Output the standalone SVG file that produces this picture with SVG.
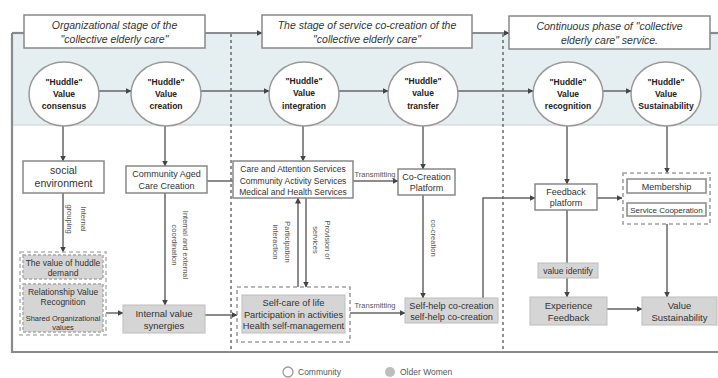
<svg xmlns="http://www.w3.org/2000/svg" width="718" height="378" viewBox="0 0 718 378">
<style>
text{font-family:"Liberation Sans",Arial,sans-serif;fill:#333;text-anchor:middle}
.ti{font-size:10.5px;font-style:italic}
.c{font-size:8.5px;font-weight:bold;fill:#222}
.b{font-size:9px}
.s{font-size:8.5px}
.lb{font-size:7.5px;fill:#555}
.box{fill:#fff;stroke:#888;stroke-width:1.5}
.gbox{fill:#d5d5d5;stroke:#bdbdbd;stroke-width:1}
.gd{fill:#d5d5d5;stroke:#a8a8a8;stroke-width:1.4;stroke-dasharray:3 2}
.dg{fill:none;stroke:#a0a0a0;stroke-width:1.6;stroke-dasharray:4 3}
.circ{fill:#fff;stroke:#999;stroke-width:1.5}
.ln{fill:none;stroke:#666;stroke-width:1.5}
.ar{marker-end:url(#ah)}
.frame{fill:none;stroke:#8a8a8a;stroke-width:2.2}
.vd{fill:none;stroke:#555;stroke-width:1.3;stroke-dasharray:3 3}
</style>
<defs>
<marker id="ah" markerUnits="userSpaceOnUse" markerWidth="6" markerHeight="6" refX="5.5" refY="3" orient="auto"><path d="M0,0 L6,3 L0,6 z" fill="#444"/></marker>
</defs>
<rect x="0" y="0" width="718" height="378" fill="#fff"/>
<rect x="13" y="34" width="705" height="91" fill="#e5eff1"/>
<line x1="13" y1="125" x2="718" y2="125" stroke="#c8d0d2" stroke-width="1"/>
<g id="frame">
<path class="frame" d="M12,33 V352 H718"/>
<line class="vd" x1="231" y1="34" x2="231" y2="352"/>
<line class="vd" x1="503" y1="34" x2="503" y2="352"/>
</g>
<g id="connectors">
<line class="frame" x1="12" y1="33" x2="24" y2="33"/>
<line class="ln ar" x1="205" y1="33" x2="262" y2="33"/>
<line class="ln ar" x1="472" y1="33" x2="509" y2="33"/>
<line class="frame" x1="710" y1="33" x2="718" y2="33"/>
<line class="ln ar" x1="99" y1="91" x2="131" y2="91"/>
<line class="ln ar" x1="201" y1="91" x2="269" y2="91"/>
<line class="ln ar" x1="339" y1="91" x2="388" y2="91"/>
<line class="ln ar" x1="458" y1="91" x2="533" y2="91"/>
<line class="ln ar" x1="603" y1="91" x2="631" y2="91"/>
<line class="ln ar" x1="63" y1="126" x2="63" y2="161"/>
<line class="ln ar" x1="63" y1="193" x2="63" y2="252"/>
<line class="ln ar" x1="165" y1="126" x2="165" y2="166"/>
<line class="ln ar" x1="165" y1="193" x2="165" y2="305"/>
<line class="ln" x1="207" y1="181" x2="233" y2="181"/>
<line class="ln ar" x1="303" y1="126" x2="303" y2="161"/>
<line class="ln ar" x1="353" y1="181" x2="398" y2="181"/>
<line class="ln ar" x1="423" y1="126" x2="423" y2="169"/>
<line class="ln ar" x1="423" y1="195" x2="423" y2="298"/>
<line class="ln ar" x1="298" y1="287" x2="298" y2="198"/>
<line class="ln ar" x1="306" y1="198" x2="306" y2="287"/>
<line class="ln ar" x1="106" y1="313" x2="123" y2="313"/>
<line class="ln ar" x1="205" y1="315" x2="237" y2="315"/>
<line class="ln ar" x1="350" y1="313" x2="405" y2="313"/>
<path class="ln ar" d="M483,298 V198 H535"/>
<line class="ln ar" x1="567" y1="126" x2="567" y2="184"/>
<line class="ln" x1="567" y1="210" x2="567" y2="263"/>
<line class="ln ar" x1="567" y1="278" x2="567" y2="297"/>
<line class="ln ar" x1="597" y1="198" x2="622" y2="198"/>
<line class="ln ar" x1="667" y1="126" x2="667" y2="173"/>
<line class="ln ar" x1="667" y1="224" x2="667" y2="297"/>
<line class="ln ar" x1="607" y1="309" x2="642" y2="309"/>
<text class="lb" transform="translate(80.5,219) rotate(90)">Internal</text>
<text class="lb" transform="translate(66.5,219) rotate(90)">grouping</text>
<text class="lb" transform="translate(182.5,245) rotate(90)">Internal and external</text>
<text class="lb" transform="translate(171.5,245) rotate(90)">coordination</text>
<text class="lb" transform="translate(284.5,242) rotate(90)">Participation</text>
<text class="lb" transform="translate(272.5,242) rotate(90)">interaction</text>
<text class="lb" transform="translate(324.5,240) rotate(90)">Provision of</text>
<text class="lb" transform="translate(312.5,240) rotate(90)">services</text>
<text class="lb" transform="translate(430.5,238) rotate(90)">co-creation</text>
<text class="lb" x="375" y="177">Transmitting</text>
<text class="lb" x="375" y="308">Transmitting</text>
</g>
<g id="stage1"><rect class="box" x="24" y="15" width="181" height="33"/><text class="ti" x="114.5" y="29">Organizational stage of the</text><text class="ti" x="114.5" y="43">"collective elderly care"</text></g>
<g id="stage2"><rect class="box" x="262" y="15" width="210" height="33"/><text class="ti" x="367" y="29">The stage of service co-creation of the</text><text class="ti" x="367" y="43">"collective elderly care"</text></g>
<g id="stage3"><rect class="box" x="509" y="16" width="201" height="33"/><text class="ti" x="609.5" y="30">Continuous phase of "collective</text><text class="ti" x="609.5" y="44">elderly care" service.</text></g>
<g id="c1"><ellipse class="circ" cx="64" cy="94" rx="35" ry="32"/><text class="c" x="64" y="85">"Huddle"</text><text class="c" x="64" y="97">Value</text><text class="c" x="64" y="109">consensus</text></g>
<g id="c2"><ellipse class="circ" cx="166" cy="94" rx="35" ry="32"/><text class="c" x="166" y="85">"Huddle"</text><text class="c" x="166" y="97">Value</text><text class="c" x="166" y="109">creation</text></g>
<g id="c3"><ellipse class="circ" cx="304" cy="94" rx="35" ry="32"/><text class="c" x="304" y="84">"Huddle"</text><text class="c" x="304" y="96">Value</text><text class="c" x="304" y="109">integration</text></g>
<g id="c4"><ellipse class="circ" cx="423" cy="94" rx="35" ry="32"/><text class="c" x="423" y="84">"Huddle"</text><text class="c" x="423" y="96">value</text><text class="c" x="423" y="109">transfer</text></g>
<g id="c5"><ellipse class="circ" cx="568" cy="94" rx="35" ry="32"/><text class="c" x="568" y="85">"Huddle"</text><text class="c" x="568" y="97">Value</text><text class="c" x="568" y="109">recognition</text></g>
<g id="c6"><ellipse class="circ" cx="666" cy="94" rx="35" ry="32"/><text class="c" x="666" y="85">"Huddle"</text><text class="c" x="666" y="97">Value</text><text class="c" x="666" y="109">Sustainability</text></g>
<g id="social"><rect class="box" x="23" y="161" width="81" height="32"/><text x="63.5" y="174" style="font-size:10.5px">social</text><text x="63.5" y="187" style="font-size:10.5px">environment</text></g>
<g id="cac"><rect class="box" x="126" y="166" width="81" height="27"/><text class="b" x="166.5" y="177">Community Aged</text><text class="b" x="166.5" y="189">Care Creation</text></g>
<g id="services"><rect class="box" x="233" y="161" width="120" height="37"/><text class="s" x="293" y="172">Care and Attention Services</text><text class="s" x="293" y="184">Community Activity Services</text><text class="s" x="293" y="195">Medical and Health Services</text></g>
<g id="platform"><rect class="box" x="398" y="169" width="57" height="26"/><text class="b" x="426.5" y="180">Co-Creation</text><text class="b" x="426.5" y="191">Platform</text></g>
<g id="feedback"><rect class="box" x="535" y="184" width="62" height="26"/><text class="b" x="566" y="195">Feedback</text><text class="b" x="566" y="206">platform</text></g>
<g id="membership"><rect class="dg" x="623" y="173" width="87" height="51"/><rect class="box" x="627" y="179" width="79" height="14"/><text class="b" x="666.5" y="189.5">Membership</text><rect class="box" x="627" y="203" width="79" height="13"/><text x="666.5" y="212.5" style="font-size:8px">Service Cooperation</text></g>
<g id="huddle-demand"><rect class="dg" x="20" y="252" width="86" height="83" style="stroke:#b5b5b5"/><rect class="gd" x="23" y="255" width="80" height="24"/><text class="s" x="63" y="266">The value of huddle</text><text class="s" x="63" y="276">demand</text><rect class="gd" x="23" y="284" width="80" height="48"/><text class="s" x="63" y="295">Relationship Value</text><text class="s" x="63" y="305">Recognition</text><text x="63" y="321" style="font-size:7.5px">Shared Organizational</text><text x="63" y="330" style="font-size:7.5px">values</text></g>
<g id="synergies"><rect class="gbox" x="123" y="305" width="82" height="28"/><text x="164" y="317" style="font-size:9.5px">Internal value</text><text x="164" y="329" style="font-size:9.5px">synergies</text></g>
<g id="selfcare"><rect class="dg" x="237" y="287" width="113" height="55"/><rect class="gbox" x="242" y="295" width="103" height="38"/><text x="293.5" y="306" style="font-size:9.3px">Self-care of life</text><text x="293.5" y="318" style="font-size:9.3px">Participation in activities</text><text x="293.5" y="329" style="font-size:9.3px">Health self-management</text></g>
<g id="selfhelp"><rect class="gbox" x="405" y="298" width="93" height="25"/><text x="451.5" y="309" style="font-size:9.2px">Self-help co-creation</text><text x="451.5" y="320" style="font-size:9.2px">self-help co-creation</text></g>
<g id="identify"><rect class="gbox" x="538" y="263" width="60" height="15"/><text x="568" y="274" style="font-size:8.5px">value identify</text></g>
<g id="experience"><rect class="gbox" x="530" y="297" width="77" height="28"/><text x="568.5" y="309" style="font-size:9.5px">Experience</text><text x="568.5" y="321" style="font-size:9.5px">Feedback</text></g>
<g id="sustain"><rect class="gbox" x="642" y="297" width="75" height="28"/><text x="679.5" y="309" style="font-size:9.5px">Value</text><text x="679.5" y="321" style="font-size:9.5px">Sustainability</text></g>
<g id="legend"><circle cx="288" cy="372" r="5" fill="#fff" stroke="#999" stroke-width="1.3"/><text x="298" y="375" style="font-size:8.5px;text-anchor:start;fill:#555">Community</text><circle cx="390" cy="372" r="5" fill="#bdbdbd"/><text x="400" y="375" style="font-size:8.5px;text-anchor:start;fill:#555">Older Women</text></g>
</svg>
